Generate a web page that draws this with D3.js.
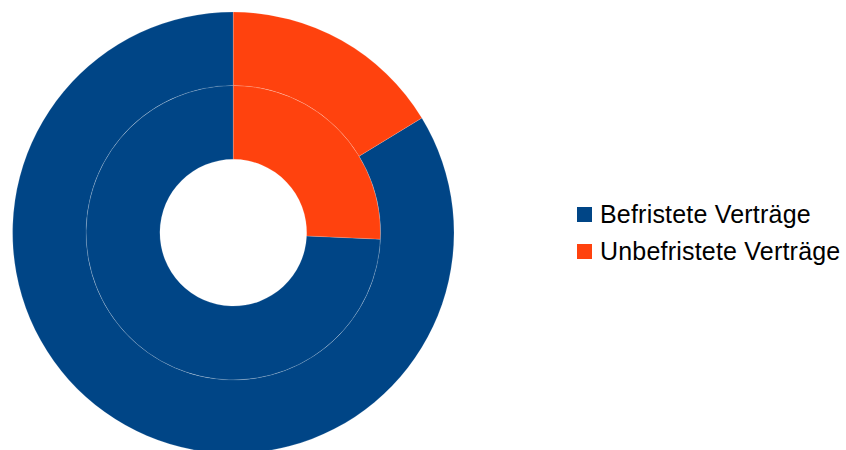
<!DOCTYPE html>
<html>
<head>
<meta charset="utf-8">
<script src="https://cdn.jsdelivr.net/npm/d3@7"></script>
<style>
  html, body { margin: 0; padding: 0; background: #ffffff; }
  svg { display: block; }
</style>
</head>
<body>
<svg id="chart" width="846" height="450"></svg>
<script>
// Contract types shown in the legend
const categories = ["Befristete Verträge", "Unbefristete Verträge"];
const colors = ["#004586", "#ff420e"];
// Inner ring and outer ring shares (percent)
const innerValues = [74.3, 25.7];
const outerValues = [83.7, 16.3];

const svg = d3.select("#chart");
const cx = 233.3, cy = 232.7;
const holeR = 73.4, midR = 147.3, outerR = 220.7;

// Slices run counter-clockwise from 12 o'clock so the second category sits to the right
const pie = d3.pie().sort(null).value(d => d)
  .startAngle(2 * Math.PI).endAngle(0);

const color = d3.scaleOrdinal().domain(categories).range(colors);

const g = svg.append("g").attr("transform", `translate(${cx},${cy})`);

function ring(values, r0, r1) {
  const arc = d3.arc().innerRadius(r0).outerRadius(r1);
  g.append("g").selectAll("path")
    .data(pie(values))
    .join("path")
    .attr("d", arc)
    .attr("fill", (d, i) => color(categories[i]))
    .attr("stroke", "rgba(255,255,255,0.3)")
    .attr("stroke-width", 0.5);
}
ring(innerValues, holeR, midR);
ring(outerValues, midR, outerR);

// Legend
const legend = svg.append("g").attr("transform", "translate(577,207)");
const item = legend.selectAll("g").data(categories).join("g")
  .attr("transform", (d, i) => `translate(0,${i * 37})`);
item.append("rect").attr("width", 15).attr("height", 15)
  .attr("fill", d => color(d));
item.append("text")
  .attr("x", 23).attr("y", 15.7)
  .attr("font-family", "'Liberation Sans', Arial, sans-serif")
  .attr("font-size", 25)
  .attr("letter-spacing", 0.2)
  .attr("fill", "#000")
  .text(d => d);
</script>
</body>
</html>
